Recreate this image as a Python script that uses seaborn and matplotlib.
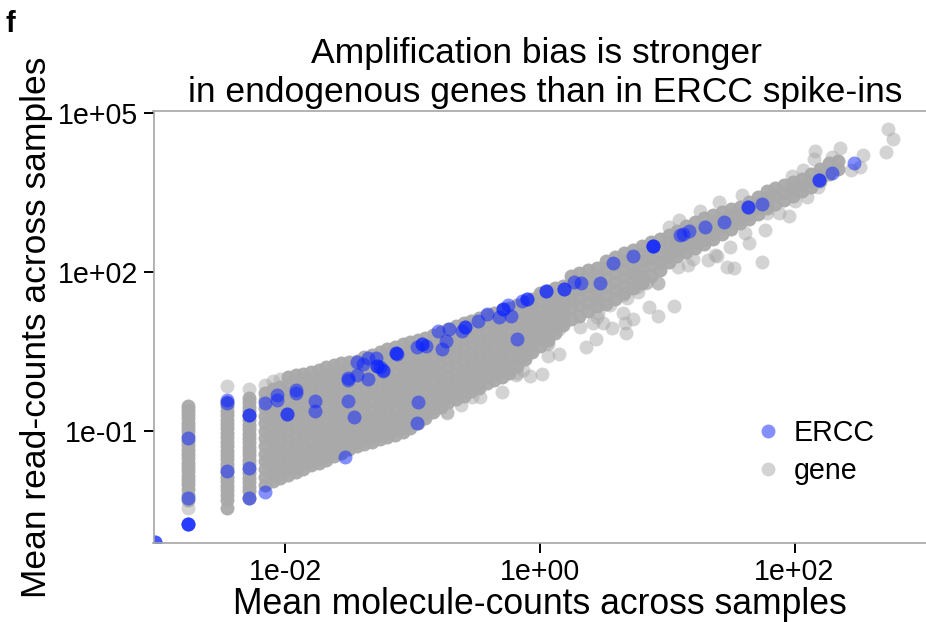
import numpy as np
import matplotlib
matplotlib.use("Agg")
import matplotlib.pyplot as plt
from matplotlib.lines import Line2D
import seaborn as sns

# All values are log10(mean counts).
strip_x = [-2.766, -2.462, -2.289]
strip_y = [
    [-.53,-.6,-.68,-.76,-.85,-.93,-1.0,-1.1,-1.18,-1.26,-1.35,-1.43,-1.5,-1.6,-1.68,-1.76,-1.85,-1.93,-2.0,-2.1,-2.2,-2.3],
    [-.45,-.53,-.62,-.7,-.79,-.87,-.95,-1.03,-1.12,-1.2,-1.28,-1.37,-1.45,-1.53,-1.62,-1.7,-1.78,-1.87,-1.95,-2.03,-2.12,-2.2,-2.3,-2.45],
    [-.38,-.46,-.55,-.63,-.71,-.8,-.88,-.96,-1.05,-1.13,-1.21,-1.3,-1.38,-1.46,-1.55,-1.63,-1.71,-1.8,-1.88,-1.96,-2.05,-2.13,-2.26],
]
core_x = [-2.16,-2.10,-2.04,-1.98,-1.92,-1.86,-1.80,-1.74,-1.68,-1.62,-1.56,-1.50,-1.44,-1.38,-1.32,-1.26,-1.20,-1.14,-1.08,-1.02,
          -.96,-.90,-.84,-.78,-.72,-.66,-.60,-.54,-.48,-.42,-.36,-.30,-.24,-.18,-.12,-.06,0.0,.06,.12,.18,
          .24,.31,.38,.45,.52,.59,.66,.73,.80,.87,.94,1.01,1.08,1.15,1.22,1.29,1.36,1.43,1.50,1.57,1.64,1.71,1.78,1.85,1.92,1.99,2.06,2.13,2.20,2.27,2.34]
core_y = [
    [-.28,-.42,-.56,-.71,-.85,-1.0,-1.14,-1.28,-1.43,-1.57,-1.72,-1.86,-2.02],
    [-.2,-.36,-.5,-.65,-.8,-.94,-1.09,-1.23,-1.38,-1.52,-1.67,-1.81,-1.95],
    [-.17,-.31,-.46,-.6,-.75,-.9,-1.04,-1.19,-1.33,-1.48,-1.62,-1.76,-1.88],
    [.02,-.13,-.28,-.42,-.57,-.72,-.86,-1.0,-1.15,-1.3,-1.44,-1.58,-1.72,-1.83],
    [.05,-.1,-.24,-.39,-.53,-.68,-.82,-.97,-1.11,-1.26,-1.4,-1.54,-1.68,-1.78],
    [.08,-.06,-.21,-.35,-.5,-.64,-.79,-.93,-1.08,-1.22,-1.36,-1.5,-1.62,-1.72],
    [.12,-.03,-.17,-.32,-.46,-.61,-.75,-.9,-1.04,-1.19,-1.33,-1.47,-1.57,-1.65],
    [.16,.01,-.13,-.28,-.42,-.57,-.71,-.86,-1.0,-1.15,-1.29,-1.42,-1.52,-1.6],
    [.2,.05,-.09,-.24,-.38,-.53,-.67,-.82,-.96,-1.1,-1.25,-1.38,-1.47,-1.54],
    [.24,.09,-.06,-.2,-.35,-.49,-.64,-.78,-.93,-1.07,-1.21,-1.34,-1.42,-1.48],
    [.28,.13,-.01,-.16,-.3,-.45,-.59,-.74,-.88,-1.03,-1.17,-1.3,-1.36,-1.42],
    [.3,.16,.02,-.13,-.27,-.42,-.56,-.71,-.85,-1.0,-1.13,-1.25,-1.33],
    [.32,.19,.05,-.1,-.24,-.39,-.53,-.68,-.82,-.97,-1.1,-1.2,-1.28],
    [.4,.25,.1,-.04,-.19,-.33,-.48,-.62,-.77,-.91,-1.05,-1.16,-1.24],
    [.44,.29,.14,0.0,-.15,-.29,-.44,-.58,-.73,-.87,-1.01,-1.12,-1.2],
    [.49,.34,.19,.05,-.1,-.24,-.39,-.53,-.68,-.82,-.96,-1.08,-1.16],
    [.54,.39,.24,.1,-.05,-.19,-.34,-.48,-.63,-.77,-.91,-1.03,-1.12],
    [.58,.43,.28,.14,-.01,-.15,-.3,-.44,-.59,-.73,-.87,-.98,-1.08],
    [.64,.49,.34,.2,.05,-.09,-.24,-.38,-.53,-.67,-.81,-.92,-1.02],
    [.68,.53,.38,.24,.09,-.05,-.2,-.34,-.49,-.63,-.77,-.86,-.94],
    [.72,.57,.42,.28,.13,-.01,-.16,-.3,-.45,-.59,-.72,-.85],
    [.76,.61,.46,.32,.17,.03,-.12,-.26,-.41,-.55,-.66,-.75],
    [.82,.67,.52,.38,.23,.09,-.06,-.2,-.35,-.48,-.57,-.65],
    [.87,.72,.57,.43,.28,.14,-.01,-.15,-.3,-.42,-.55],
    [.93,.78,.63,.49,.34,.2,.05,-.09,-.23,-.35,-.45],
    [.98,.83,.68,.54,.39,.25,.1,-.04,-.18,-.3,-.4],
    [1.03,.88,.73,.59,.44,.3,.15,.01,-.12,-.24,-.33],
    [1.08,.93,.78,.64,.49,.35,.2,.06,-.07,-.17,-.25],
    [1.13,.98,.83,.69,.54,.4,.25,.11,-.02,-.1,-.18],
    [1.18,1.03,.88,.74,.59,.45,.3,.16,.03,-.1],
    [1.23,1.08,.93,.79,.64,.5,.35,.21,.08,-.03],
    [1.28,1.13,.98,.84,.69,.55,.4,.26,.13,.02],
    [1.33,1.18,1.03,.89,.74,.6,.45,.31,.2,.1],
    [1.38,1.24,1.1,.95,.81,.66,.52,.38,.22],
    [1.43,1.29,1.15,1.0,.86,.72,.58,.46,.35],
    [1.5,1.36,1.22,1.08,.94,.8,.66,.5],
    [1.6,1.45,1.3,1.16,1.02,.88,.74,.6],
    [1.65,1.5,1.36,1.22,1.08,.95,.84,.72],
    [1.7,1.56,1.42,1.28,1.14,1.0,.85],
    [1.74,1.6,1.47,1.33,1.2,1.08,1.0],
    [1.93,1.78,1.63,1.48,1.33,1.12],
    [1.98,1.83,1.68,1.53,1.38,1.17],
    [2.03,1.88,1.73,1.58,1.42,1.26],
    [2.08,1.93,1.78,1.63,1.49,1.35],
    [2.2,2.05,1.9,1.74,1.57,1.40],
    [2.29,2.14,1.98,1.82,1.66,1.5],
    [2.35,2.2,2.05,1.9,1.75,1.6],
    [2.42,2.27,2.12,1.98,1.84,1.7],
    [2.49,2.34,2.2,2.06,1.92,1.8],
    [2.56,2.41,2.27,2.13,1.92],
    [2.63,2.48,2.33,2.18,2.04],
    [2.7,2.56,2.42,2.3,2.18],
    [2.78,2.64,2.52,2.4,2.3],
    [2.86,2.72,2.6,2.48,2.38],
    [2.94,2.8,2.67,2.55,2.45],
    [3.02,2.87,2.74,2.63,2.53],
    [3.08,2.95,2.82,2.72,2.62],
    [3.13,3.0,2.87,2.72],
    [3.18,3.05,2.93,2.82],
    [3.23,3.1,3.0,2.92],
    [3.32,3.2,3.1,3.0],
    [3.42,3.3,3.2,3.1],
    [3.52,3.4,3.3,3.2],
    [3.59,3.45,3.28],
    [3.65,3.5,3.36],
    [3.7,3.57,3.44],
    [3.76,3.64,3.52],
    [3.84,3.72,3.6],
    [3.95,3.83,3.72],
    [4.05,3.85],
    [4.1,3.95],
]
outlier_x = [-2.462,-2.289,-2.766,-2.163,-2.1,-2.04,.359,.44,.149,.063,.013,-.079,-.189,-.301,-.621,-.733,-.079,-.118,.065,.149,.314,.419,.568,.673,.731,.668,.859,.925,1.053,.925,.77,.655,.495,.456,.681,.833,
             2.732,2.772,2.719,2.536,2.515,2.444,2.358,2.161,2.153,2.292,2.187,1.742,1.472,1.527,1.323,1.375,1.393,1.493,1.64,1.611,1.766,1.959,1.881,1.409,1.257,1.095,1.016,1.585,2.069,1.978,1.205,1.087,1.165,.93,2.096,2.004,1.782,
             -.393,-.301,-.419,-.472,-.537,-.629,-.133,-.183,-.157,.053,0.0,.131,.445,.55,.655,.76,.838,-.733,-.8,-.865]
outlier_y = [-.15,-.21,-2.45,-.13,-.05,-.02,.591,.736,.453,.415,.075,.043,.057,-.258,-.509,-.655,.515,.402,.636,.925,.957,1.032,.949,.843,1.113,1.032,1.345,1.175,1.364,1.798,1.628,1.221,1.038,1.226,1.509,1.792,
             4.692,4.504,4.27,4.208,3.975,3.925,4.345,4.289,4.126,4.175,3.609,2.194,2.1,2.075,2.226,2.321,2.302,2.466,2.542,2.73,2.792,3.057,3.119,3.326,3.151,2.981,2.855,3.453,3.925,3.817,2.245,2.1,2.132,1.798,3.409,3.345,3.108,
             .277,.151,.025,-.353,-.353,-.283,.151,.094,.402,.655,.849,.943,1.157,1.377,1.566,1.723,1.817,-.636,-.283,-.415]
ercc_x = [-3.025,-3.025,-2.766,-2.766,-2.766,-2.766,-2.766,-2.462,-2.462,-2.462,-2.289,-2.289,-2.289,-2.289,-2.163,-2.163,-2.069,-2.069,-1.988,-1.988,-1.92,-1.92,-1.766,-1.766,
          -1.509,-1.509,-1.509,-1.464,-1.532,-1.44,-1.44,-1.389,-1.352,-1.289,-1.283,-1.283,-1.234,-1.352,-1.132,-1.132,-1.257,-1.234,-1.126,-.967,-.93,-.93,-.896,-.959,-.967,-.802,-.741,-.772,-.713,-.615,-.589,-.589,-.49,-.414,
          -.32,-.293,-.293,-.249,-.228,-.183,-.144,-.105,-.105,.05,.05,.189,.189,.27,.322,.472,.576,.728,.886,.886,.886,1.1,1.121,1.173,1.297,1.444,1.632,1.632,1.747,2.195,2.195,2.292,2.465]
ercc_y = [-3.09,-3.09,-1.138,-2.27,-2.749,-2.749,-2.749,-.472,-.415,-1.749,-.698,-.698,-1.704,-2.27,-.477,-2.145,-.321,-.415,-.679,-.679,-.226,-.289,-.428,-.617,
          -.006,-.038,-.434,-.736,-1.485,.057,.308,.264,.372,.372,.226,.226,.138,-.019,.466,.466,.213,.151,.453,.591,.642,.642,.604,-.458,-.849,.892,.704,.542,.925,.887,.968,.968,1.075,1.208,
          1.145,1.302,1.302,1.377,1.17,.736,1.458,1.49,1.49,1.647,1.647,1.674,1.674,1.817,1.787,1.787,2.164,2.302,2.49,2.49,2.49,2.698,2.717,2.779,2.855,2.943,3.232,3.232,3.289,3.736,3.736,3.862,4.051]
x_ticks = [-2, 0, 2]
y_ticks = [-1, 2, 5]
x_tick_labels = ["1e-02", "1e+00", "1e+02"]
y_tick_labels = ["1e-01", "1e+02", "1e+05"]
group_names = ["ERCC", "gene"]

sns.set_style("white")
plt.rcParams["font.family"] = ["Liberation Sans", "DejaVu Sans"]

dense_x, dense_y = [], []
for xs, ys in ((strip_x, strip_y), (core_x, core_y)):
    for cx, col in zip(xs, ys):
        dense_x += [cx] * len(col)
        dense_y += col

W, H = 926, 622
fig = plt.figure(figsize=(W / 100, H / 100), dpi=100, facecolor="white")
ax = fig.add_axes([153.5 / W, 1 - 543 / H, (W - 153.5) / W, (543 - 111) / H])
colors = {"gene": "#a9a9a9", "ERCC": "#0a22ff"}
common = dict(s=101, linewidth=0, legend=False, ax=ax)
sns.scatterplot(x=10.0 ** np.array(outlier_x), y=10.0 ** np.array(outlier_y), color=colors["gene"], alpha=0.5, zorder=2, **common)
sns.scatterplot(x=10.0 ** np.array(dense_x), y=10.0 ** np.array(dense_y), color=colors["gene"], alpha=0.95, zorder=2.1, **common)
sns.scatterplot(x=10.0 ** np.array(ercc_x), y=10.0 ** np.array(ercc_y), color=colors["ERCC"], alpha=0.5, zorder=2.2, **common)
ax.set_xscale("log")
ax.set_yscale("log")
ax.set_xlim(10 ** -3.037, 10 ** 3.033)
ax.set_ylim(10 ** -3.113, 10 ** 5.038)
ax.set_xticks([10.0 ** t for t in x_ticks], x_tick_labels)
ax.set_yticks([10.0 ** t for t in y_ticks], y_tick_labels)
ax.minorticks_off()
ax.tick_params(axis="both", which="major", labelsize=20.6, length=7, width=1.4, color="black",
               labelcolor="black", bottom=True, left=True)
ax.tick_params(axis="x", pad=4)
ax.tick_params(axis="y", pad=4)
for side in ("left", "bottom", "top"):
    ax.spines[side].set_color("#a6a6a6")
    ax.spines[side].set_linewidth(1.2)
    ax.spines[side].set_visible(True)
ax.spines["right"].set_visible(False)
ax.set_xlabel("")
ax.set_ylabel("")

fig.text(540 / W, 1 - 604 / H, "Mean molecule-counts across samples", fontsize=25.6, color="black", ha="center", va="center")
fig.text(37 / W, 1 - 327 / H, "Mean read-counts across samples", fontsize=25.5, color="black", rotation=90, ha="center", va="center")
fig.text(536.5 / W, 1 - 63 / H, "Amplification bias is stronger", fontsize=25.5, color="black", ha="center", va="baseline")
fig.text(545.5 / W, 1 - 102 / H, "in endogenous genes than in ERCC spike-ins", fontsize=25.5, color="black", ha="center", va="baseline")
fig.text(5 / W, 1 - 32 / H, "f", fontsize=21, color="black", fontweight="bold", ha="left", va="baseline")

handles = [Line2D([], [], linestyle="", marker="o", markersize=10, markeredgewidth=0, color=colors[g], alpha=0.5)
           for g in group_names]
ax.legend(handles, group_names, loc="center left", bbox_to_anchor=(0.777, 0.211), frameon=False,
          fontsize=20.6, labelspacing=0.33, handlelength=1, handletextpad=0.41, borderpad=0, borderaxespad=0, labelcolor="black")

fig.savefig("out.png", dpi=100)
